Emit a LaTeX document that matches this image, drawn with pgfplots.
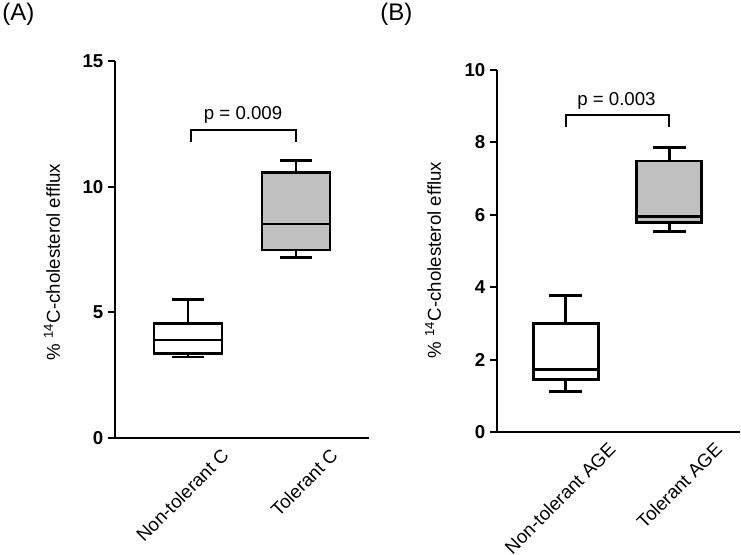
\documentclass[border=0pt]{standalone}
\usepackage{fontspec}
\setmainfont{Liberation Sans}
\usepackage{pgfplots}
\pgfplotsset{compat=1.18}
\usepgfplotslibrary{statistics}

\definecolor{boxgray}{RGB}{192,192,192}
\newcommand{\lblfont}{\fontsize{14}{16}\selectfont}

\pgfplotsset{
  effluxaxis/.style={
    scale only axis, anchor=south west, clip=false,
    axis x line=bottom, axis y line=left,
    axis line style={-, line width=2pt, black},
    tick align=outside, ytick pos=left,
    major tick length=5.25pt,
    ytick style={line width=1.5pt, black},
    xtick style={draw=none},
    ymin=0,
    /pgf/number format/assume math mode=true,
    yticklabel style={font=\lblfont\bfseries},
    xticklabel style={font=\lblfont, rotate=45, anchor=north east, inner sep=0pt},
    xticklabel shift=1.5pt,
    ylabel={\% \textsuperscript{14}C-cholesterol efflux},
  },
  bx/.style={black, line width=2pt, solid, mark=none, boxplot/draw direction=y},
  wb/.style={bx, boxplot/every box/.style={fill=white, draw=black}},
  gb/.style={bx, boxplot/every box/.style={fill=boxgray, draw=black}},
  bracket/.style={black, line width=1.5pt, mark=none},
}

\begin{document}
\begin{tikzpicture}
\path[use as bounding box] (0,0) rectangle (555.75pt,415.5pt);

% Panel A: control sera
\begin{axis}[effluxaxis,
  at={(86.25pt,87pt)}, width=190.5pt, height=282.75pt,
  xmin=0.324, xmax=2.676, ymax=15, ytick={0,5,10,15},
  xtick={1.30,2.31}, xticklabels={Non-tolerant C, Tolerant C},
  every axis y label/.style={at={(axis description cs:-0.248,0.467)}, anchor=center, rotate=90, font=\lblfont}]
\addplot[wb, boxplot prepared={draw position=1, median=3.90,
  upper quartile=4.55, lower quartile=3.35,
  upper whisker=5.52, lower whisker=3.22,
  box extend=0.63, whisker extend=0.305}] coordinates {};
\addplot[gb, boxplot prepared={draw position=2, median=8.52,
  upper quartile=10.57, lower quartile=7.48,
  upper whisker=11.03, lower whisker=7.17,
  box extend=0.63, whisker extend=0.305}] coordinates {};
\addplot[bracket] coordinates {(1.03,11.79) (1.03,12.25) (2,12.25) (2,11.79)};
\node[anchor=south, inner sep=0pt, yshift=5pt, font=\lblfont]
  at (axis cs:1.51,12.25) {p = 0.009};
\end{axis}

% Panel B: AGE-modified sera
\begin{axis}[effluxaxis,
  at={(372.75pt,91.5pt)}, width=182.25pt, height=271.5pt,
  xmin=0.335, xmax=2.685, ymax=10, ytick={0,2,4,6,8,10},
  xtick={1.40,2.43}, xticklabels={Non-tolerant AGE, Tolerant AGE},
  every axis y label/.style={at={(axis description cs:-0.263,0.475)}, anchor=center, rotate=90, font=\lblfont}]
\addplot[wb, boxplot prepared={draw position=1, median=1.73,
  upper quartile=2.99, lower quartile=1.45,
  upper whisker=3.77, lower whisker=1.11,
  box extend=0.63, whisker extend=0.32}] coordinates {};
\addplot[gb, boxplot prepared={draw position=2, median=5.95,
  upper quartile=7.49, lower quartile=5.78,
  upper whisker=7.86, lower whisker=5.53,
  box extend=0.63, whisker extend=0.32}] coordinates {};
\addplot[bracket] coordinates {(1,8.43) (1,8.76) (2,8.76) (2,8.43)};
\node[anchor=south, inner sep=0pt, yshift=4pt, font=\lblfont]
  at (axis cs:1.49,8.76) {p = 0.003};
\end{axis}

\node[anchor=north west, inner sep=0pt, font=\fontsize{18}{20}\selectfont] at (1.5pt,413pt) {(A)};
\node[anchor=north west, inner sep=0pt, font=\fontsize{18}{20}\selectfont] at (285pt,413pt) {(B)};
\end{tikzpicture}
\end{document}
